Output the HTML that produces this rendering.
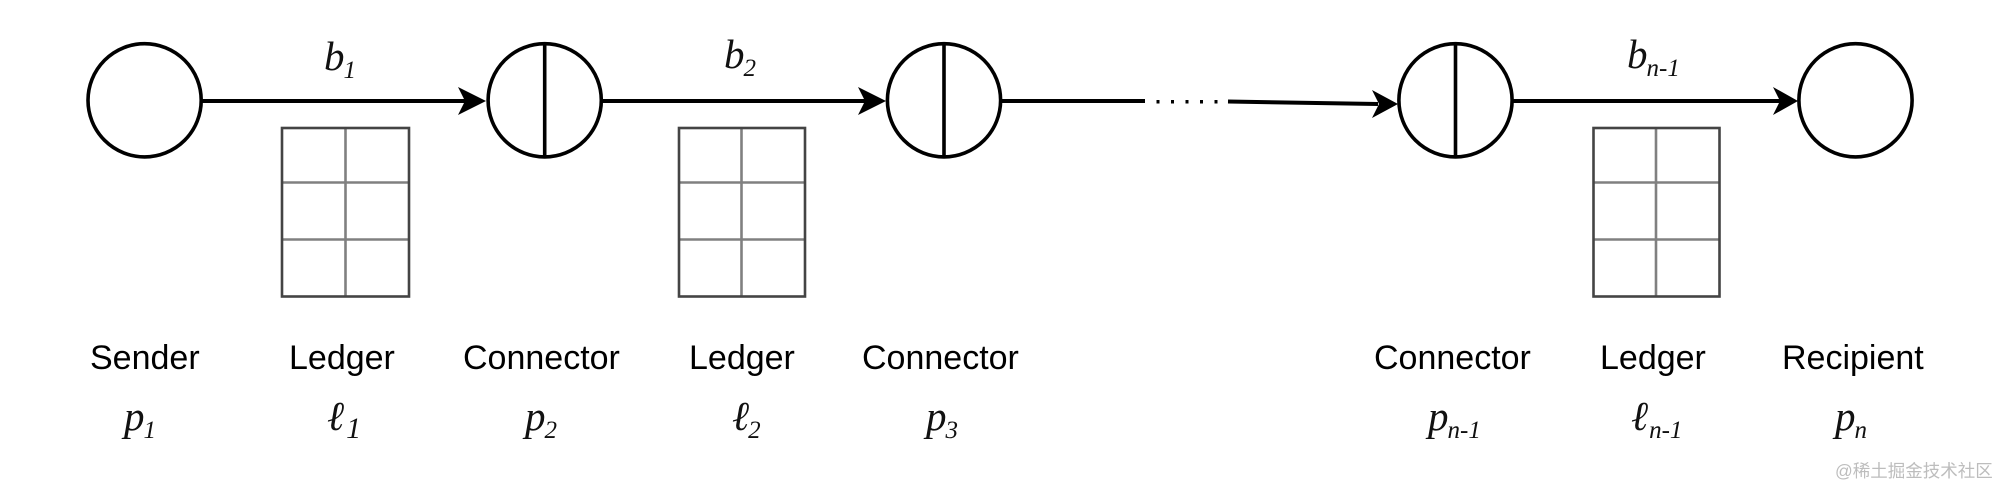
<!DOCTYPE html>
<html><head><meta charset="utf-8">
<style>
html,body{margin:0;padding:0;background:#fff;width:2000px;height:487px;overflow:hidden}
svg{display:block}
.s{font-family:"Liberation Sans",sans-serif;font-size:34px;fill:#000}
.m{font-family:"Liberation Serif",serif;font-style:italic;font-size:41px;fill:#111}
.u{font-size:25px}
.v{font-size:30px}
</style></head><body>
<svg width="2000" height="487" viewBox="0 0 2000 487" xmlns="http://www.w3.org/2000/svg">
<rect width="2000" height="487" fill="#fff"/>
<g fill="none" stroke="#000" stroke-width="3.6">
<circle cx="144.6" cy="100.3" r="56.6"/>
<circle cx="544.7" cy="100.3" r="56.6"/>
<circle cx="944" cy="100.3" r="56.6"/>
<circle cx="1455.5" cy="100.3" r="56.6"/>
<circle cx="1855.5" cy="100.3" r="56.6"/>
<path d="M544.7 44V157M944 44V157M1455.5 44V157"/>
</g>
<g fill="none" stroke="#000" stroke-width="4">
<path d="M202 101H470"/>
<path d="M602 101H870"/>
<path d="M1002 101H1145"/>
<path d="M1228 101.5L1378 104"/>
<path d="M1513 101H1780"/>
</g>
<g fill="#000">
<path d="M458 87L486 101L458 115L465 101Z"/>
<path d="M858 87L886 101L858 115L865 101Z"/>
<path d="M1372 90L1398 104L1372 118L1379 104Z"/>
<path d="M1773 87L1798 101L1773 115L1780 101Z"/>
<rect x="1156.5" y="100" width="3" height="3.5"/>
<rect x="1171" y="100" width="3" height="3.5"/>
<rect x="1185.5" y="100" width="3" height="3.5"/>
<rect x="1200" y="100" width="3" height="3.5"/>
<rect x="1214.5" y="100" width="3" height="3.5"/>
</g>
<g fill="none" stroke="#808080" stroke-width="2.6">
<path d="M345.5 128V296M282 182.5H409M282 239.5H409"/>
<path d="M741.5 128V296M679 182.5H805M679 239.5H805"/>
<path d="M1656 128V296M1593 182.5H1719M1593 239.5H1719"/>
</g>
<g fill="none" stroke="#444" stroke-width="2.6">
<rect x="282" y="128" width="127" height="168.5"/>
<rect x="679" y="128" width="126" height="168.5"/>
<rect x="1593.5" y="128" width="126" height="168.5"/>
</g>
<g class="s">
<text class="s" x="90" y="369">Sender</text>
<text class="s" x="289" y="369">Ledger</text>
<text class="s" x="463" y="369">Connector</text>
<text class="s" x="689" y="369">Ledger</text>
<text class="s" x="862" y="369">Connector</text>
<text class="s" x="1374" y="369">Connector</text>
<text class="s" x="1600" y="369">Ledger</text>
<text class="s" x="1782" y="369">Recipient</text>
</g>
<text class="m" x="324" y="70">b<tspan class="u" dx="-1" dy="8">1</tspan></text>
<text class="m" x="724" y="68">b<tspan class="u" dx="-1" dy="8">2</tspan></text>
<text class="m" x="1627" y="68">b<tspan class="u" dx="-1" dy="8">n-1</tspan></text>
<text class="m" x="124" y="430">p<tspan class="u" dx="-1" dy="8">1</tspan></text>
<text class="m" x="327" y="430">ℓ<tspan class="v" dx="2" dy="8">1</tspan></text>
<text class="m" x="525" y="430">p<tspan class="u" dx="-1" dy="8">2</tspan></text>
<text class="m" x="732" y="430">ℓ<tspan class="u" dx="-1" dy="8">2</tspan></text>
<text class="m" x="926" y="430">p<tspan class="u" dx="-1" dy="8">3</tspan></text>
<text class="m" x="1428" y="430">p<tspan class="u" dx="-1" dy="8">n-1</tspan></text>
<text class="m" x="1631" y="430">ℓ<tspan class="u" dx="1" dy="8">n-1</tspan></text>
<text class="m" x="1835" y="430">p<tspan class="u" dx="-1" dy="8">n</tspan></text>
<text x="1835" y="477" font-family="'Liberation Sans','Noto Sans CJK SC',sans-serif" font-size="17.5" fill="#bdbdbd">@稀土掘金技术社区</text>
</svg>
</body></html>
